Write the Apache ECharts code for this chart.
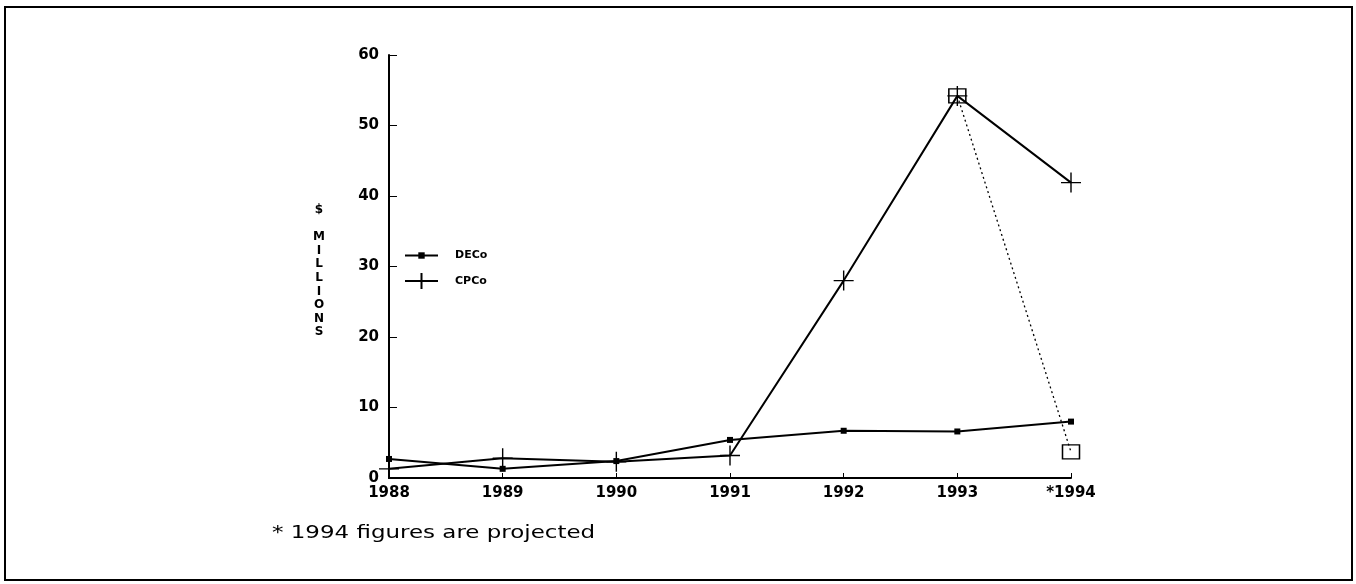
<!DOCTYPE html>
<html>
<head>
<meta charset="utf-8">
<script src="https://cdn.jsdelivr.net/npm/echarts@6/dist/echarts.min.js"></script>
<style>
html,body{margin:0;padding:0;background:#fff;}
#chart{width:1356px;height:584px;}
</style>
</head>
<body>
<div id="chart"></div>
<script>
// ---- data ----
const years = ['1988', '1989', '1990', '1991', '1992', '1993', '*1994'];
const decoValues = [2.7, 1.3, 2.4, 5.4, 6.7, 6.6, 8.0];
const cpcoValues = [1.3, 2.8, 2.3, 3.2, 28.0, 54.2, 41.9];
const projectedValues = [null, null, null, null, null, 54.2, 3.7];
const yTicks = [0, 10, 20, 30, 40, 50, 60];

const FONT = '"DejaVu Sans", sans-serif';
const crossPath = 'path://M0,10L20,10M10,0L10,20';

const legendText = { fontFamily: FONT, fontSize: 11, fontWeight: 'bold', color: '#000', padding: [0, 0, 0, 12] };

const chart = echarts.init(document.getElementById('chart'));
chart.setOption({
  animation: false,
  backgroundColor: '#fff',
  grid: { left: 389, right: 285, top: 55, bottom: 106, containLabel: false },
  legend: [
    {
      orient: 'vertical', left: 404, top: 250, padding: 0,
      itemWidth: 33, itemHeight: 8,
      data: ['DECo'], textStyle: legendText, selectedMode: false
    },
    {
      orient: 'vertical', left: 404, top: 272, padding: 0,
      itemWidth: 33, itemHeight: 20,
      data: ['CPCo'], textStyle: legendText, selectedMode: false
    }
  ],
  xAxis: {
    type: 'category',
    data: years,
    boundaryGap: false,
    axisLine: { lineStyle: { color: '#000', width: 2 } },
    axisTick: { inside: true, length: 5, lineStyle: { color: '#000', width: 1 } },
    axisLabel: { color: '#000', fontFamily: FONT, fontSize: 15, fontWeight: 'bold', margin: 8 },
    splitLine: { show: false }
  },
  yAxis: {
    type: 'value',
    min: yTicks[0],
    max: yTicks[yTicks.length - 1],
    interval: 10,
    axisLine: { show: true, lineStyle: { color: '#000', width: 2 } },
    axisTick: { show: true, inside: true, length: 8, lineStyle: { color: '#000', width: 1 } },
    axisLabel: { color: '#000', fontFamily: FONT, fontSize: 15, fontWeight: 'bold', margin: 10 },
    splitLine: { show: false }
  },
  series: [
    {
      name: 'DECo',
      type: 'line',
      data: decoValues,
      symbol: 'rect',
      symbolSize: 6,
      showAllSymbol: true,
      lineStyle: { color: '#000', width: 2 },
      itemStyle: { color: '#000' },
      z: 3
    },
    {
      name: 'CPCo',
      type: 'line',
      data: cpcoValues,
      symbol: crossPath,
      symbolSize: 20,
      showAllSymbol: true,
      lineStyle: { color: '#000', width: 2 },
      itemStyle: { color: '#000', borderColor: '#000', borderWidth: 1.4 },
      z: 3
    },
    {
      name: 'Projected',
      type: 'line',
      data: projectedValues,
      connectNulls: false,
      symbol: 'rect',
      symbolSize: [17, 14],
      showAllSymbol: true,
      lineStyle: { color: '#000', width: 1.3, type: [2, 3] },
      itemStyle: { color: 'rgba(0,0,0,0)', borderColor: '#000', borderWidth: 1.4 },
      z: 2
    }
  ],
  graphic: [
    {
      type: 'rect',
      shape: { x: 5, y: 7, width: 1347, height: 573 },
      style: { fill: 'none', stroke: '#000', lineWidth: 2 },
      silent: true
    },
    {
      type: 'text',
      x: 319,
      y: 203,
      style: {
        text: '$\n\nM\nI\nL\nL\nI\nO\nN\nS',
        fontFamily: FONT, fontSize: 12, fontWeight: 'bold', fill: '#000',
        lineHeight: 13.6, align: 'center', verticalAlign: 'top'
      }
    },
    {
      type: 'text',
      x: 272,
      y: 534,
      scaleX: 1.35,
      style: {
        text: '* 1994 figures are projected',
        fontFamily: FONT, fontSize: 17, fill: '#000',
        align: 'left', verticalAlign: 'middle'
      }
    }
  ]
});
</script>
</body>
</html>
